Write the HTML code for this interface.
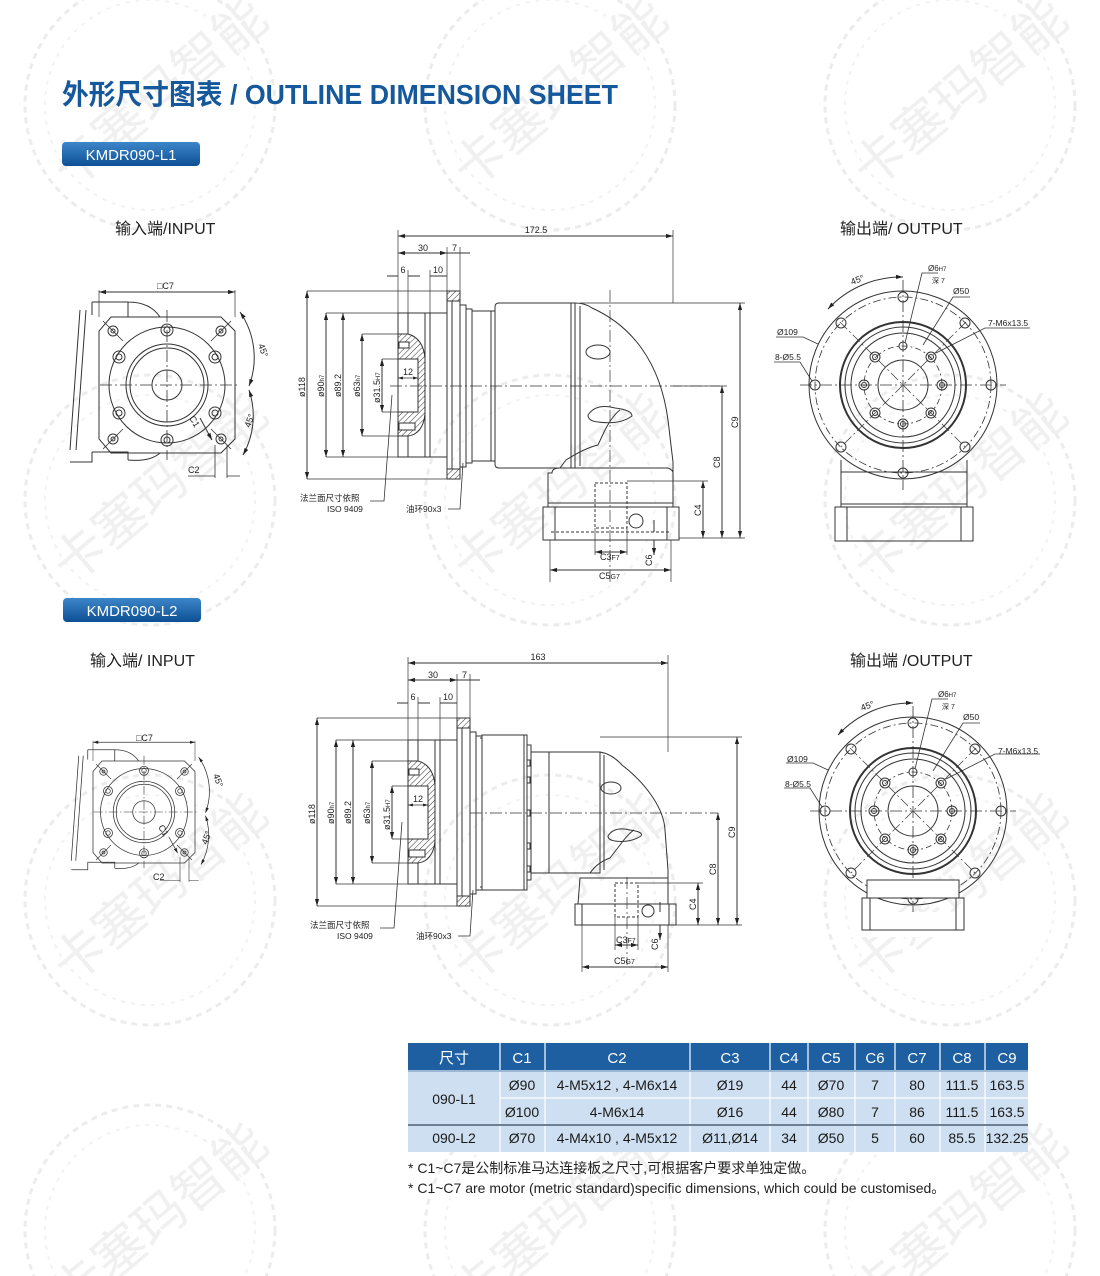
<!DOCTYPE html>
<html><head><meta charset="utf-8">
<style>
html,body{margin:0;padding:0;background:#fff;width:1100px;height:1276px;overflow:hidden;}
svg{display:block;}
text{font-family:"Liberation Sans","Noto Sans CJK SC",sans-serif;}
</style></head>
<body>
<svg width="1100" height="1276" viewBox="0 0 1100 1276" xmlns="http://www.w3.org/2000/svg">
<defs>
<marker id="a" viewBox="0 0 10 10" refX="10" refY="5" markerWidth="7" markerHeight="7" orient="auto-start-reverse"><path d="M0,2 L10,5 L0,8 Z" fill="#222"/></marker>
<pattern id="h" width="4" height="4" patternUnits="userSpaceOnUse" patternTransform="rotate(45)"><line x1="0" y1="0" x2="0" y2="4" stroke="#333" stroke-width="1"/></pattern>
<linearGradient id="bg" x1="0" y1="0" x2="0" y2="1"><stop offset="0" stop-color="#3d86c9"/><stop offset="1" stop-color="#0d4f94"/></linearGradient>

<g id="wm" fill="none">
<circle cx="0" cy="0" r="125" stroke="#ececec" stroke-width="3" stroke-dasharray="6 5"/>
<circle cx="0" cy="0" r="105" stroke="#f2f2f2" stroke-width="2" stroke-dasharray="4 6"/>
<text x="0" y="0" transform="rotate(-40) translate(-115,15)" font-size="52" fill="#f0f0f0" font-family="'Noto Sans CJK SC',sans-serif">卡塞玛智能</text>
</g>

<g id="inp" fill="none" stroke="#333" stroke-width="1">
<path d="M92,302 L128,302 L128,317 M128,302 Q150,302 160,317"/>
<path d="M92,452 L128,452 L128,460 M128,460 Q150,462 160,453"/>
<path d="M92,302 L92,315 M86,310 L76,450 M80,310 L70,450 M92,452 L92,462 L70,462"/>
<path d="M111,317 L221,317 L235,331 L235,439 L221,453 L111,453 L99,439 L99,331 Z"/>
<circle cx="167" cy="385" r="58"/>
<circle cx="167" cy="385" r="41"/>
<circle cx="167" cy="385" r="37"/>
<circle cx="167" cy="385" r="15"/>
<g stroke-width="1">
<circle cx="167" cy="330" r="6"/><circle cx="167" cy="330" r="3"/>
<circle cx="167" cy="440" r="6"/><circle cx="167" cy="440" r="3"/>
<circle cx="119" cy="357" r="6"/><circle cx="119" cy="357" r="3"/>
<circle cx="215" cy="357" r="6"/><circle cx="215" cy="357" r="3"/>
<circle cx="119" cy="413" r="6"/><circle cx="119" cy="413" r="3"/>
<circle cx="215" cy="413" r="6"/><circle cx="215" cy="413" r="3"/>
<circle cx="113" cy="331" r="5"/><circle cx="113" cy="331" r="2"/>
<circle cx="221" cy="331" r="5"/><circle cx="221" cy="331" r="2"/>
<circle cx="113" cy="439" r="5"/><circle cx="113" cy="439" r="2"/>
<circle cx="221" cy="439" r="5"/><circle cx="221" cy="439" r="2"/>
</g>
<path d="M100,385 L240,385 M167,310 L167,460" stroke-dasharray="12 3 2 3" stroke-width="0.8"/>
<path d="M103,321 L123,341 M231,321 L211,341 M103,449 L123,429 M231,449 L211,429" stroke-width="0.8"/>
<path d="M99,292 L235,292" marker-start="url(#a)" marker-end="url(#a)"/>
<path d="M99,290 L99,317 M235,290 L235,317" stroke-width="0.7"/>
<path d="M240,312 A80,80 0 0 1 249,386" marker-start="url(#a)" marker-end="url(#a)"/>
<path d="M249,390 A80,80 0 0 1 243,455" marker-start="url(#a)" marker-end="url(#a)"/>
<path d="M200,418 L212,440" marker-end="url(#a)"/>
<path d="M215,445 L215,478 M227,445 L227,478 M188,476 L215,476 M227,476 L240,476" stroke-width="0.8"/>
</g>

<g id="outc" fill="none" stroke="#333" stroke-width="1">
<circle cx="903" cy="385" r="94"/>
<circle cx="903" cy="385" r="88" stroke-dasharray="8 3 2 3" stroke-width="0.8"/>
<circle cx="903" cy="385" r="63" stroke-width="2"/>
<circle cx="903" cy="385" r="58"/>
<circle cx="903" cy="385" r="52"/>
<circle cx="903" cy="385" r="39" stroke-dasharray="6 3 2 3" stroke-width="0.8"/>
<circle cx="903" cy="385" r="25"/>
<path d="M800,385 L1006,385 M903,280 L903,490" stroke-dasharray="12 3 2 3" stroke-width="0.8"/>
<path d="M840,322 L966,448 M966,322 L840,448" stroke-dasharray="10 3 2 3" stroke-width="0.7"/>
<circle cx="903" cy="297" r="5"/><circle cx="903" cy="473" r="5"/>
<circle cx="815" cy="385" r="5"/><circle cx="991" cy="385" r="5"/>
<circle cx="841" cy="323" r="5"/><circle cx="965" cy="323" r="5"/>
<circle cx="841" cy="447" r="5"/><circle cx="965" cy="447" r="5"/>
<circle cx="903" cy="346" r="4"/>
<circle cx="875" cy="357" r="5"/><circle cx="875" cy="357" r="2.5"/>
<circle cx="931" cy="357" r="5"/><circle cx="931" cy="357" r="2.5"/>
<circle cx="864" cy="385" r="5"/><circle cx="864" cy="385" r="2.5"/>
<circle cx="942" cy="385" r="5"/><circle cx="942" cy="385" r="2.5"/>
<circle cx="875" cy="413" r="5"/><circle cx="875" cy="413" r="2.5"/>
<circle cx="931" cy="413" r="5"/><circle cx="931" cy="413" r="2.5"/>
<circle cx="903" cy="424" r="5"/><circle cx="903" cy="424" r="2.5"/>
<path d="M828,309 A100,100 0 0 1 903,277" marker-start="url(#a)" marker-end="url(#a)"/>
<path d="M938,273 L922,273 L905,343" stroke-width="0.8"/>
<path d="M970,297 L953,297 L923,345" stroke-width="0.8"/>
<path d="M1030,328 L985,328 L936,353" stroke-width="0.8"/>
<path d="M776,337 L803,337 L818,344" stroke-width="0.8"/>
<path d="M774,362 L800,362 L812,381" stroke-width="0.8"/>
</g>

<g id="sidelbl" font-size="9" fill="#222">
<text x="423" y="251" text-anchor="middle">30</text>
<text x="452" y="251">7</text>
<text x="403" y="273" text-anchor="middle">6</text>
<text x="438" y="273" text-anchor="middle">10</text>
<text x="403" y="375">12</text>
<text transform="translate(305,397) rotate(-90)">ø118</text>
<text transform="translate(324,397) rotate(-90)">ø90<tspan font-size="6">h7</tspan></text>
<text transform="translate(341,397) rotate(-90)">ø89.2</text>
<text transform="translate(360,397) rotate(-90)">ø63<tspan font-size="6">h7</tspan></text>
<text transform="translate(380,403) rotate(-90)">ø31.5<tspan font-size="6">H7</tspan></text>
<text x="300" y="501" font-size="8.5">法兰面尺寸依照</text>
<text x="327" y="512" font-size="8.5">ISO 9409</text>
<text x="406" y="512" font-size="8.5">油环90x3</text>
</g>
</defs>

<use href="#wm" x="150" y="105"/><use href="#wm" x="550" y="105"/><use href="#wm" x="950" y="105"/>
<use href="#wm" x="150" y="500"/><use href="#wm" x="550" y="500"/><use href="#wm" x="950" y="500"/>
<use href="#wm" x="150" y="900"/><use href="#wm" x="550" y="900"/><use href="#wm" x="950" y="900"/>
<use href="#wm" x="150" y="1230"/><use href="#wm" x="550" y="1230"/><use href="#wm" x="950" y="1230"/>

<text x="62" y="104" font-size="28" font-weight="bold" fill="#16589c" font-family="'Liberation Sans Narrow','Noto Sans CJK SC',sans-serif" textLength="556" lengthAdjust="spacingAndGlyphs">外形尺寸图表 / OUTLINE DIMENSION SHEET</text>

<rect x="62" y="142" width="138" height="24" rx="4" fill="url(#bg)"/>
<text x="131" y="160" font-size="15" fill="#fff" text-anchor="middle">KMDR090-L1</text>
<rect x="63" y="598" width="138" height="24" rx="4" fill="url(#bg)"/>
<text x="132" y="616" font-size="15" fill="#fff" text-anchor="middle">KMDR090-L2</text>

<text x="115" y="234" font-size="16" fill="#222">输入端/INPUT</text>
<text x="840" y="234" font-size="16" fill="#222">输出端/ OUTPUT</text>
<text x="90" y="666" font-size="16" fill="#222">输入端/ INPUT</text>
<text x="850" y="666" font-size="16" fill="#222">输出端 /OUTPUT</text>

<use href="#inp"/>
<g font-size="9" fill="#222">
<text x="157" y="289">□C7</text>
<text x="258" y="345" transform="rotate(70 258 345)">45°</text>
<text x="250" y="428" transform="rotate(-70 250 428)">45°</text>
<text x="189" y="418" transform="rotate(60 189 418)">C1</text>
<text x="188" y="473">C2</text>
</g>
<g transform="translate(144,812) scale(0.75) translate(-167,-385)"><use href="#inp"/></g>
<g font-size="9" fill="#222">
<text x="136" y="741">□C7</text>
<text x="213" y="775" transform="rotate(70 213 775)">45°</text>
<text x="207" y="845" transform="rotate(-70 207 845)">45°</text>
<text x="158" y="827" transform="rotate(60 158 827)">C1</text>
<text x="153" y="880">C2</text>
</g>

<g id="side1l" fill="none" stroke="#333" stroke-width="1">
<path d="M307,291 L447,291 M307,479 L447,479" stroke-width="0.7"/>
<path d="M307,291 L307,479" marker-start="url(#a)" marker-end="url(#a)"/>
<path d="M326,313 L398,313 M326,457 L398,457" stroke-width="0.7"/>
<path d="M326,313 L326,457" marker-start="url(#a)" marker-end="url(#a)"/>
<path d="M343,313 L343,457" marker-start="url(#a)" marker-end="url(#a)"/>
<path d="M362,334 L405,334 M362,436 L405,436" stroke-width="0.7"/>
<path d="M362,334 L362,436" marker-start="url(#a)" marker-end="url(#a)"/>
<path d="M382,359 L398,359 M382,412 L398,412" stroke-width="0.7"/>
<path d="M382,359 L382,412" marker-start="url(#a)" marker-end="url(#a)"/>
<rect x="398" y="313" width="49" height="144"/>
<path d="M408,313 L408,334 M408,436 L408,457 M430,313 L430,457 M425,313 L425,457"/>
<path d="M398,334 L408,334 Q423,338 425,358 L425,414 Q423,434 408,436 L398,436 Z" fill="url(#h)"/>
<rect x="398" y="359" width="20" height="53" fill="#fff"/>
<rect x="399" y="342" width="10" height="6" fill="#fff"/>
<rect x="399" y="423" width="16" height="7" fill="#fff"/>
<path d="M398,378 L418,378" marker-start="url(#a)" marker-end="url(#a)" stroke-width="0.7"/>
<rect x="447" y="291" width="13" height="188"/>
<rect x="447" y="291" width="13" height="10" fill="url(#h)"/>
<rect x="447" y="469" width="13" height="10" fill="url(#h)"/>
<path d="M447,301 L460,301 M447,469 L460,469 M452,301 L452,469"/>
<path d="M460,305 L466,305 L466,467 L460,467 M466,309 L472,309 L472,463 L466,463"/>
<path d="M398,230 L398,313 M447,247 L447,291 M460,247 L460,291 M408,270 L408,313 M430,270 L430,313" stroke-width="0.7"/>
<path d="M398,253 L447,253" marker-start="url(#a)" marker-end="url(#a)"/>
<path d="M447,253 L470,253"/>
<path d="M387,276 L398,276 M408,276 L420,276 M430,276 L447,276"/>
<path d="M370,501 L384,501 L392,395" stroke-width="0.8"/>
<path d="M448,509 L460,509 L463,463" stroke-width="0.8"/>
</g>
<use href="#sidelbl"/>
<g fill="none" stroke="#333" stroke-width="1">
<path d="M472,311 L495,311 L495,461 L472,461 Z M491,311 L491,461"/>
<path d="M499,303 L575,303 L575,468 L499,468 Q495,468 495,464 L495,307 Q495,303 499,303 Z"/>
<path d="M571,303 L571,468 M580,306 L580,466"/>
<path d="M575,303 Q585,303 592,308 C630,325 660,360 668,420 L673,462 L673,473"/>
<path d="M560,468 L566,460 Q585,448 598,445 L605,430 Q613,415 620,410" />
<ellipse cx="598" cy="352" rx="12" ry="7"/>
<path d="M588,415 Q596,403 615,408 Q632,410 632,416 Q620,425 598,422 Q588,421 588,415 Z"/>
<path d="M552,473 Q552,468 560,468 L668,468 Q673,470 673,473 L673,507 L548,507 L548,473 Z"/>
<path d="M548,503 L673,503"/>
<rect x="543" y="507" width="136" height="33"/>
<path d="M555,507 L555,540 M667,507 L667,540"/>
<rect x="595" y="483" width="32" height="45" stroke-dasharray="3 2"/>
<path d="M551,532 L671,532" stroke-dasharray="3 2"/>
<circle cx="636" cy="521" r="7"/>
<path d="M610,290 L610,582 M390,386 L720,386" stroke-dasharray="12 3 2 3" stroke-width="0.7"/>
<path d="M673,230 L673,303" stroke-width="0.7"/>
<path d="M398,236 L673,236" marker-start="url(#a)" marker-end="url(#a)"/>
<path d="M580,303 L745,303 M673,386 L727,386 M627,481 L708,481 M679,538 L745,538" stroke-width="0.7"/>
<path d="M740,303 L740,538" marker-start="url(#a)" marker-end="url(#a)"/>
<path d="M722,386 L722,538" marker-start="url(#a)" marker-end="url(#a)"/>
<path d="M703,481 L703,538" marker-start="url(#a)" marker-end="url(#a)"/>
<path d="M595,528 L595,555 M627,528 L627,555 M550,540 L550,582 M671,540 L671,582" stroke-width="0.7"/>
<path d="M595,552 L627,552" marker-start="url(#a)" marker-end="url(#a)"/>
<path d="M550,570 L671,570" marker-start="url(#a)" marker-end="url(#a)"/>
<path d="M654,520 L654,532 M654,540 L654,555" marker-end="url(#a)"/>
</g>
<g font-size="9" fill="#222">
<text x="536" y="233" text-anchor="middle">172.5</text>
<text transform="translate(738,428) rotate(-90)">C9</text>
<text transform="translate(720,468) rotate(-90)">C8</text>
<text transform="translate(701,516) rotate(-90)">C4</text>
<text transform="translate(652,566) rotate(-90)">C6</text>
<text x="600" y="560">C3<tspan font-size="7">F7</tspan></text>
<text x="599" y="579">C5<tspan font-size="7">G7</tspan></text>
</g>

<g transform="translate(10,427)"><use href="#side1l"/><use href="#sidelbl"/></g>
<g fill="none" stroke="#333" stroke-width="1">
<path d="M482,735 L527,735 L527,890 L482,890 Z M480,738 L482,738 M480,887 L482,887 M524,735 L524,890"/>
<path d="M527,745 L531,745 L531,880 L527,880"/>
<path d="M527,760 h3 v6 h-3 M527,777 h3 v6 h-3 M527,810 h3 v6 h-3 M527,843 h3 v6 h-3 M527,866 h3 v6 h-3"/>
<path d="M531,752 L600,752 L600,873 L531,873 M549,752 L549,873"/>
<path d="M600,752 Q612,754 622,765 C648,785 664,810 665,830 L668,870 L668,878"/>
<path d="M604,755 L604,870 M590,873 Q598,862 610,858 L620,845 Q628,834 634,830"/>
<ellipse cx="611" cy="788" rx="10" ry="6"/>
<path d="M608,836 Q614,826 630,830 Q644,832 641,836 Q630,843 615,841 Q608,840 608,836 Z"/>
<path d="M580,878 L668,878 L668,904 L578,904 Z M580,873 L590,873"/>
<rect x="575" y="904" width="101" height="21"/>
<path d="M582,904 L582,925 M669,904 L669,925"/>
<rect x="615" y="883" width="23" height="34" stroke-dasharray="3 2"/>
<circle cx="648" cy="911" r="6"/>
<path d="M627,877 L627,965" stroke-dasharray="12 3 2 3" stroke-width="0.7"/>
<path d="M470,813 L718,813" stroke-dasharray="12 3 2 3" stroke-width="0.7"/>
<path d="M668,655 L668,752 M600,737 L742,737 M638,883 L703,883 M676,925 L742,925" stroke-width="0.7"/>
<path d="M408,663 L668,663" marker-start="url(#a)" marker-end="url(#a)"/>
<path d="M737,737 L737,925" marker-start="url(#a)" marker-end="url(#a)"/>
<path d="M718,813 L718,925" marker-start="url(#a)" marker-end="url(#a)"/>
<path d="M698,883 L698,925" marker-start="url(#a)" marker-end="url(#a)"/>
<path d="M615,917 L615,950 M638,917 L638,950 M582,925 L582,972 M668,925 L668,972" stroke-width="0.7"/>
<path d="M615,945 L638,945" marker-start="url(#a)" marker-end="url(#a)"/>
<path d="M582,967 L668,967" marker-start="url(#a)" marker-end="url(#a)"/>
<path d="M660,902 L660,912 M660,925 L660,940" marker-end="url(#a)"/>
</g>
<g font-size="9" fill="#222">
<text x="538" y="660" text-anchor="middle">163</text>
<text transform="translate(735,838) rotate(-90)">C9</text>
<text transform="translate(716,875) rotate(-90)">C8</text>
<text transform="translate(696,910) rotate(-90)">C4</text>
<text transform="translate(658,950) rotate(-90)">C6</text>
<text x="616" y="943">C3<tspan font-size="7">F7</tspan></text>
<text x="614" y="964">C5<tspan font-size="7">G7</tspan></text>
</g>

<use href="#outc"/>
<g fill="none" stroke="#333" stroke-width="1">
<path d="M841,472 L841,460 M967,472 L967,460"/>
<rect x="841" y="472" width="126" height="35"/>
<path d="M841,504 L967,504"/>
<rect x="835" y="507" width="138" height="34"/>
<path d="M847,507 L847,541 M961,507 L961,541"/>
</g>
<g font-size="9" fill="#222">
<text x="852" y="285" transform="rotate(-20 852 285)">45°</text>
<text x="928" y="271" font-size="8">Ø6<tspan font-size="6">H7</tspan></text>
<text x="932" y="283" font-size="7">深 7</text>
<text x="953" y="294" font-size="8.5">Ø50</text>
<text x="988" y="326" font-size="8.5">7-M6x13.5</text>
<text x="777" y="335" font-size="8.5">Ø109</text>
<text x="775" y="360" font-size="8.5">8-Ø5.5</text>
</g>
<g transform="translate(10,426)"><use href="#outc"/></g>
<rect x="850" y="912" width="130" height="25" fill="#fff"/>
<g fill="none" stroke="#333" stroke-width="1">
<rect x="867" y="880" width="92" height="18" fill="#fff"/>
<rect x="862" y="898" width="102" height="32"/>
<path d="M870,898 L870,930 M956,898 L956,930"/>
</g>
<g font-size="9" fill="#222">
<text x="862" y="711" transform="rotate(-20 862 711)">45°</text>
<text x="938" y="697" font-size="8">Ø6<tspan font-size="6">H7</tspan></text>
<text x="942" y="709" font-size="7">深 7</text>
<text x="963" y="720" font-size="8.5">Ø50</text>
<text x="998" y="754" font-size="8.5">7-M6x13.5</text>
<text x="787" y="762" font-size="8.5">Ø109</text>
<text x="785" y="787" font-size="8.5">8-Ø5.5</text>
</g>

<g font-size="14" fill="#1a1a1a" text-anchor="middle">
<rect x="408" y="1043" width="620" height="28" fill="#1d5fa0"/>
<rect x="408" y="1071" width="620" height="81" fill="#cddff0"/>
<g stroke="#fff" stroke-width="1.2">
<path d="M500,1043 V1152 M545,1043 V1152 M690,1043 V1152 M770,1043 V1152 M808,1043 V1152 M855,1043 V1152 M895,1043 V1152 M940,1043 V1152 M985,1043 V1152"/>
<path d="M500,1098 H1028"/>
</g>
<rect x="408" y="1070" width="620" height="2" fill="#9bb7d3"/>
<rect x="408" y="1124" width="620" height="2" fill="#6c7f93"/>
<g fill="#fff" font-size="15">
<text x="454" y="1063">尺寸</text><text x="522" y="1063">C1</text><text x="617" y="1063">C2</text><text x="730" y="1063">C3</text><text x="789" y="1063">C4</text><text x="831" y="1063">C5</text><text x="875" y="1063">C6</text><text x="917" y="1063">C7</text><text x="962" y="1063">C8</text><text x="1007" y="1063">C9</text>
</g>
<text x="454" y="1104">090-L1</text>
<text x="522" y="1090">Ø90</text><text x="617" y="1090">4-M5x12 , 4-M6x14</text><text x="730" y="1090">Ø19</text><text x="789" y="1090">44</text><text x="831" y="1090">Ø70</text><text x="875" y="1090">7</text><text x="917" y="1090">80</text><text x="962" y="1090">111.5</text><text x="1007" y="1090">163.5</text>
<text x="522" y="1117">Ø100</text><text x="617" y="1117">4-M6x14</text><text x="730" y="1117">Ø16</text><text x="789" y="1117">44</text><text x="831" y="1117">Ø80</text><text x="875" y="1117">7</text><text x="917" y="1117">86</text><text x="962" y="1117">111.5</text><text x="1007" y="1117">163.5</text>
<text x="454" y="1143">090-L2</text>
<text x="522" y="1143">Ø70</text><text x="617" y="1143">4-M4x10 , 4-M5x12</text><text x="730" y="1143">Ø11,Ø14</text><text x="789" y="1143">34</text><text x="831" y="1143">Ø50</text><text x="875" y="1143">5</text><text x="917" y="1143">60</text><text x="962" y="1143">85.5</text><text x="1007" y="1143">132.25</text>
</g>
<g font-size="14" fill="#222">
<text x="408" y="1173">* C1~C7是公制标准马达连接板之尺寸,可根据客户要求单独定做。</text>
<text x="408" y="1193">* C1~C7 are motor (metric standard)specific dimensions, which could be customised。</text>
</g>
</svg>
</body></html>
